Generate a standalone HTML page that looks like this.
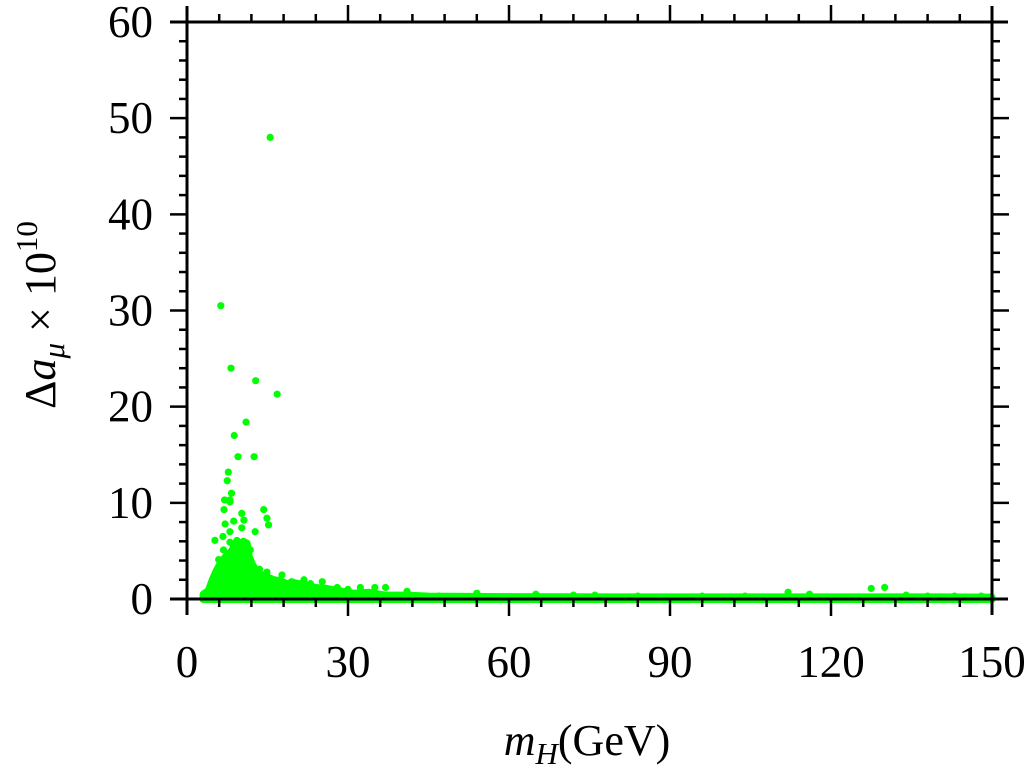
<!DOCTYPE html>
<html><head><meta charset="utf-8">
<style>
html,body{margin:0;padding:0;background:#fff;}
svg{display:block;font-family:"Liberation Serif","DejaVu Serif",serif;}
</style></head>
<body>
<svg id="chart" width="1030" height="767" viewBox="0 0 1030 767" xmlns="http://www.w3.org/2000/svg">
  <g id="dense"></g>
  <g id="points"></g>
  <g id="axes"></g>
  <g id="labels"></g>
  <text x="587" y="755" text-anchor="middle" font-size="44"><tspan font-style="italic">m</tspan><tspan font-style="italic" font-size="31" dy="9">H</tspan><tspan dy="-9">(GeV)</tspan></text>
  <text transform="translate(55,315) rotate(-90)" text-anchor="middle" font-size="44">Δ<tspan font-style="italic">a</tspan><tspan font-style="italic" font-size="31" dy="9">μ</tspan><tspan dy="-9"> × 10</tspan><tspan font-size="31" dy="-18">10</tspan></text>
</svg>
<script>
const xTicks = [0, 30, 60, 90, 120, 150];
const yTicks = [0, 10, 20, 30, 40, 50, 60];
const xTickLabels = ["0", "30", "60", "90", "120", "150"];
const yTickLabels = ["0", "10", "20", "30", "40", "50", "60"];
// upper envelope of the dense cloud of points
const envX = [3, 4, 4.7, 5.5, 6.2, 7.0, 7.5, 8.3, 9.3, 10.0, 10.5, 11.2, 11.6, 12.1, 13, 14.5, 16.2, 17.5, 18.6, 20, 21.8, 24, 26, 28, 31, 34, 37, 41, 45, 60, 80, 100, 120, 140, 150];
const envY = [0.5, 0.9, 2.0, 3.0, 3.7, 4.3, 4.6, 5.0, 6.1, 5.6, 6.0, 5.8, 4.4, 3.7, 2.8, 2.4, 2.0, 1.9, 1.6, 1.7, 1.5, 1.2, 1.1, 0.9, 0.6, 0.7, 0.4, 0.4, 0.3, 0.25, 0.22, 0.22, 0.22, 0.22, 0.2];
// individual scattered points
const ptX = [15.5, 6.3, 8.2, 12.8, 16.8, 11.0, 8.8, 12.5, 9.5, 7.7, 7.5, 8.3, 8.0, 7.0, 14.3, 14.9, 15.2, 10.2, 10.6, 7.1, 8.7, 8.0, 10.2, 12.7, 5.2, 6.7, 8.0, 6.8, 5.9, 11.8, 12.1, 14.9, 17.7, 21.8, 25.2, 32.3, 35, 37, 41, 8.0, 6.9, 54, 65, 72, 76, 112, 116, 127.5, 130, 134, 143, 148, 47, 84, 96, 104, 138, 4.5, 5.6, 13.5, 19.5, 23, 28, 30];
const ptY = [48.0, 30.5, 24.0, 22.7, 21.3, 18.4, 17.0, 14.8, 14.8, 13.2, 12.3, 11.0, 10.3, 10.3, 9.3, 8.4, 7.7, 8.9, 8.2, 7.8, 8.1, 7.0, 7.4, 7.0, 6.1, 6.5, 5.9, 5.1, 4.1, 5.1, 3.7, 2.8, 2.5, 2.0, 1.8, 1.2, 1.2, 1.2, 0.8, 10.1, 9.3, 0.6, 0.5, 0.4, 0.4, 0.7, 0.5, 1.1, 1.2, 0.4, 0.3, 0.3, 0.3, 0.3, 0.3, 0.3, 0.3, 1.5, 3.0, 3.1, 1.8, 1.6, 1.2, 1.0];

const NS = "http://www.w3.org/2000/svg";
const X0 = 187, X1 = 992, Y0 = 599, Y1 = 22;
const xScale = v => X0 + (v - 0) / 150 * (X1 - X0);
const yScale = v => Y0 - (v - 0) / 60 * (Y0 - Y1);
const GREEN = "#00ff00";

function mk(tag, attrs, parent) {
  const e = document.createElementNS(NS, tag);
  for (const k in attrs) e.setAttribute(k, attrs[k]);
  parent.appendChild(e);
  return e;
}

// dense region
const dense = document.getElementById("dense");
let pts = [];
for (let i = 0; i < envX.length; i++) pts.push(xScale(envX[i]) + "," + yScale(envY[i]));
pts.push(xScale(envX[envX.length - 1]) + "," + yScale(-0.05));
pts.push(xScale(envX[0]) + "," + yScale(-0.05));
const poly = mk("polygon", {points: pts.join(" "), fill: GREEN, stroke: GREEN, "stroke-width": 7, "stroke-linejoin": "round"}, dense);



// points
const pg = document.getElementById("points");
for (let i = 0; i < ptX.length; i++) {
  const c = mk("circle", {cx: xScale(ptX[i]), cy: yScale(ptY[i]), r: 3.6, fill: GREEN}, pg);
  
  
}

// axes
const ax = document.getElementById("axes");
function ln(x1, y1, x2, y2, w) {
  return mk("line", {x1, y1, x2, y2, stroke: "#000", "stroke-width": w || 3}, ax);
}
const b = ln(170, Y0, 1008, Y0);  
const t = ln(170, Y1, 1008, Y1);  
const l = ln(X0, 6, X0, 615);  
const r = ln(X1, 6, X1, 615);  

for (let v = 6; v < 150; v += 6) {
  const major = v % 30 === 0;
  const len = major ? 17 : 8;
  const x = xScale(v);
  const a = ln(x, Y0, x, Y0 + len, 2.5);  
  const c = ln(x, Y1, x, Y1 - len, 2.5);  
}
for (let v = 2; v < 60; v += 2) {
  const major = v % 10 === 0;
  const len = major ? 17 : 8;
  const y = yScale(v);
  const a = ln(X0, y, X0 - len, y, 2.5);  
  const c = ln(X1, y, X1 + len, y, 2.5);  
}

// labels
const lg = document.getElementById("labels");
xTicks.forEach((v, i) => {
  const e = mk("text", {x: xScale(v), y: 677, "text-anchor": "middle", "font-size": 45}, lg);
  e.textContent = xTickLabels[i];
  
  
});
yTicks.forEach((v, i) => {
  const e = mk("text", {x: 153, y: yScale(v) + 15, "text-anchor": "end", "font-size": 45}, lg);
  e.textContent = yTickLabels[i];
  
  
});
</script>
</body></html>
